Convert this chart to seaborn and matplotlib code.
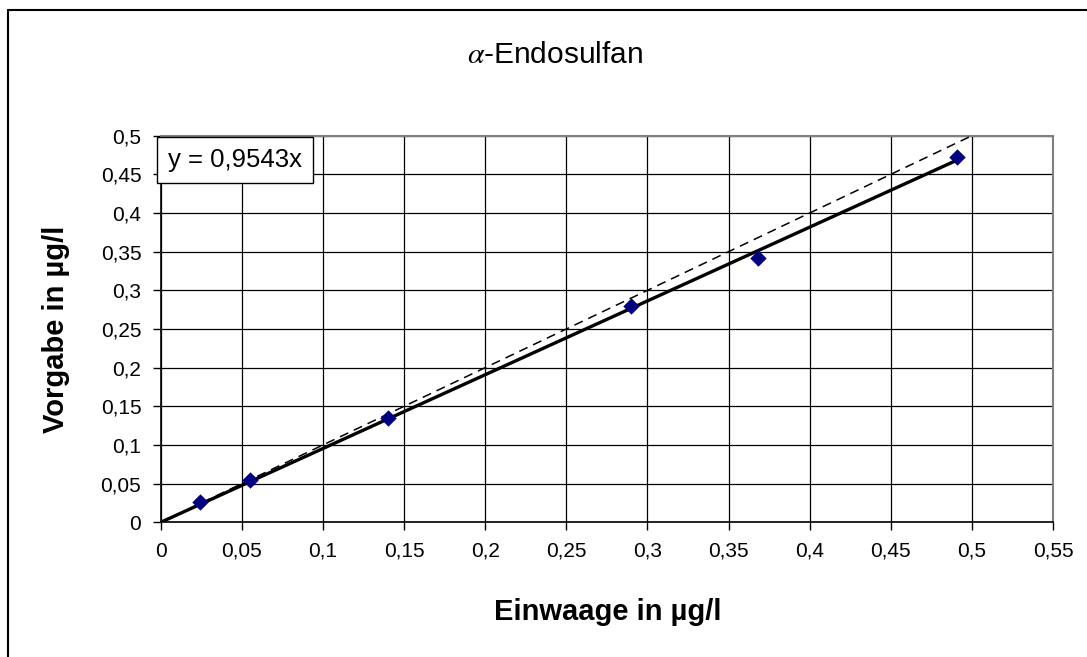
import numpy as np
import pandas as pd
import matplotlib
matplotlib.use("Agg")
import matplotlib.pyplot as plt
from matplotlib.lines import Line2D
from matplotlib.ticker import FuncFormatter, MultipleLocator
import seaborn as sns

# ---- data ----
einwaage = [0.024, 0.055, 0.140, 0.290, 0.368, 0.491]
vorgabe = [0.026, 0.0545, 0.135, 0.280, 0.342, 0.473]
slope = 0.9543
ideal_x = [0.0, 0.5]
trend_x = [0.0, 0.491]

title = "-Endosulfan"
xlabel = "Einwaage in µg/l"
ylabel = "Vorgabe in µg/l"
eq_text = "y = 0,9543x"

sns.set_theme(style="white")
plt.rcParams['font.family'] = ['Liberation Sans', 'DejaVu Sans']
plt.rcParams['mathtext.fontset'] = 'stix'
plt.rcParams['text.color'] = 'black'
plt.rcParams['axes.labelcolor'] = 'black'

W, H = 1087, 657
fig = plt.figure(figsize=(W / 100, H / 100), dpi=100)
ax = fig.add_axes([160.7 / W, 1 - 522.3 / H, (1053 - 160.7) / W, (522.3 - 135.7) / H])

pts = pd.DataFrame({"x": einwaage, "y": vorgabe})
ideal = pd.DataFrame({"x": ideal_x, "y": ideal_x})
trend = pd.DataFrame({"x": trend_x, "y": [slope * v for v in trend_x]})

sns.lineplot(data=ideal, x="x", y="y", ax=ax, color="black", lw=1.1,
             linestyle=(0, (6, 4)), zorder=3)
sns.lineplot(data=trend, x="x", y="y", ax=ax, color="black", lw=2.4, zorder=4)
sns.scatterplot(data=pts, x="x", y="y", ax=ax, marker="D", s=70, color="#000080",
                edgecolor="#000080", linewidth=0, zorder=5)

ax.set_xlim(0, 0.55)
ax.set_ylim(0, 0.5)
ax.xaxis.set_major_locator(MultipleLocator(0.05))
ax.yaxis.set_major_locator(MultipleLocator(0.05))
fmt = FuncFormatter(lambda v, p: ("%g" % round(v, 3)).replace(".", ","))
ax.xaxis.set_major_formatter(fmt)
ax.yaxis.set_major_formatter(fmt)
ax.grid(True, color="black", lw=0.9)
ax.set_axisbelow(True)
ax.tick_params(axis="both", direction="out", length=6, width=1, color="black",
               labelsize=15, labelcolor="black", pad=8, left=True, bottom=True)
for s in ["left", "bottom"]:
    ax.spines[s].set_color("black")
    ax.spines[s].set_linewidth(1.2)
for s in ["top", "right"]:
    ax.spines[s].set_color("#808080")
    ax.spines[s].set_linewidth(1.5)

ax.set_xlabel("")
ax.set_ylabel("")
fig.text(608 / W, 1 - 612 / H, xlabel, ha="center", va="center",
         fontsize=21, fontweight="bold", color="black")
fig.text(56 / W, 1 - 329 / H, ylabel, ha="center", va="center",
         fontsize=21, fontweight="bold", rotation=90, color="black")
fig.text(555 / W, 1 - 55 / H, r"$\alpha$" + title, ha="center", va="center",
         fontsize=21.5, color="black")

fig.text(235 / W, 1 - 160 / H, eq_text, ha="center", va="center",
         fontsize=18.5, color="black", zorder=6,
         bbox=dict(boxstyle="square,pad=0.42", facecolor="white", edgecolor="black", lw=1))

# figure frame (left and top edges visible)
fig.add_artist(Line2D([8 / W, 8 / W], [0, 1 - 10 / H], transform=fig.transFigure,
                      color="black", lw=1.5))
fig.add_artist(Line2D([8 / W, 1], [1 - 10 / H, 1 - 10 / H], transform=fig.transFigure,
                      color="black", lw=1.5))

fig.savefig("out.png", dpi=100, facecolor="white")
